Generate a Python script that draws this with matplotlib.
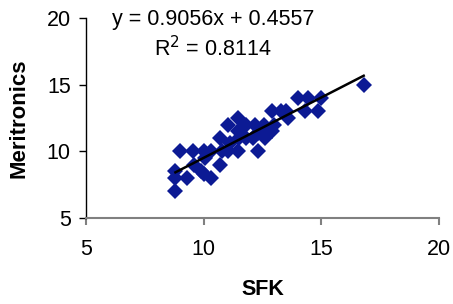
import matplotlib
matplotlib.use("Agg")
import matplotlib.pyplot as plt
import numpy as np

plt.rcParams['font.family'] = ['Liberation Sans', 'DejaVu Sans']

sfk = [8.8, 8.8, 8.8, 9.0, 9.3, 9.55, 9.6, 10.0, 9.9, 10.0, 10.05, 10.3, 10.3,
       10.7, 10.7, 10.8, 11.05, 11.05, 11.1, 11.45, 11.45, 11.45, 11.5, 11.8,
       11.8, 12.2, 12.1, 12.3, 12.3, 12.55, 12.6, 12.9, 12.9, 13.0, 13.3, 13.5,
       13.6, 14.0, 14.3, 14.45, 14.85, 15.0, 16.8]
meritronics = [7.0, 8.0, 8.5, 10.0, 8.0, 10.0, 9.0, 10.0, 8.5, 8.3, 9.5, 10.0, 8.0,
               9.0, 11.0, 10.0, 12.0, 10.0, 10.6, 12.5, 11.5, 10.0, 11.0, 12.0,
               11.0, 12.0, 11.0, 10.0, 11.35, 12.0, 11.0, 13.0, 11.5, 12.0, 13.0, 13.0,
               12.5, 14.0, 13.0, 14.0, 13.0, 14.0, 15.0]
slope = 0.9056
intercept = 0.4557
r_squared = 0.8114

fig = plt.figure(figsize=(4.53, 3.04), dpi=100)
ax = fig.add_axes([86/453, 1-218/304, (439-86)/453, (218-18)/304])

ax.plot(sfk, meritronics, linestyle='none', marker='D', markersize=8.5,
        color='#0c1a94', markeredgewidth=0, zorder=2)
xl = np.array([min(sfk), max(sfk)])
ax.plot(xl, slope*xl + intercept, color='black', lw=1.8, zorder=3)

ax.set_xlim(5, 20)
ax.set_ylim(5, 20)
ax.set_xticks([5, 10, 15, 20])
ax.set_yticks([5, 10, 15, 20])
ax.spines['top'].set_visible(False)
ax.spines['right'].set_visible(False)
ax.spines['bottom'].set_color('#808080')
ax.spines['bottom'].set_linewidth(1.5)
ax.spines['left'].set_color('black')
ax.spines['left'].set_linewidth(1.0)
ax.tick_params(axis='x', direction='out', length=5, width=1.5, color='#808080',
               labelsize=15.5, pad=10)
ax.tick_params(axis='y', direction='out', length=5, width=1.0, color='black',
               labelsize=15.5, pad=6)
ax.set_xlabel('SFK', fontsize=15.5, fontweight='bold', labelpad=14)
ax.set_ylabel('Meritronics', fontsize=16, fontweight='bold', labelpad=12)

fig.text(213/453, 1-20/304, f'y = {slope}x + {intercept}', ha='center', va='center', fontsize=15.5)
fig.text(213/453, 1-49/304, f'R$^2$ = {r_squared}', ha='center', va='center', fontsize=15.5)

fig.savefig('out.png', dpi=100)
